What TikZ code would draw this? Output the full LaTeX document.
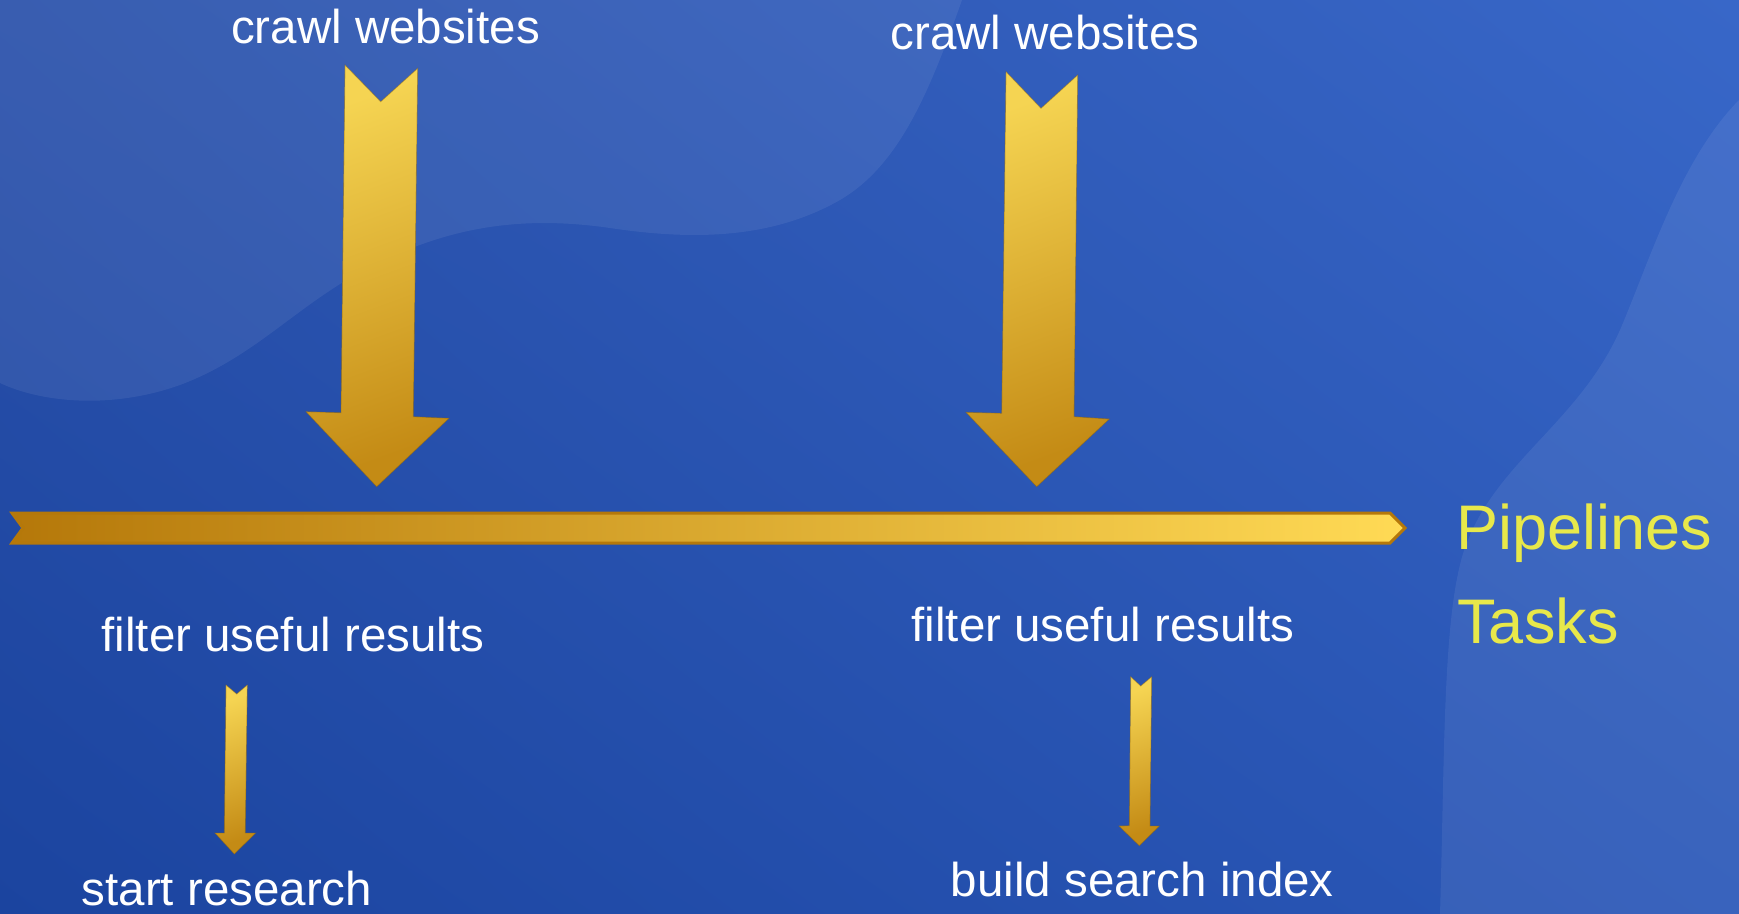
\documentclass[tikz,border=0pt]{standalone}
\usepackage{fontspec}
\setmainfont{Liberation Sans}
\usetikzlibrary{positioning, shadings}
\definecolor{bgUL}{HTML}{2A51AB}
\definecolor{bgUR}{HTML}{3867C8}
\definecolor{bgLL}{HTML}{1B449F}
\definecolor{bgLR}{HTML}{2B58B8}
\definecolor{goldlight}{HTML}{F5D452}
\definecolor{golddark}{HTML}{C48B15}
\definecolor{barlight}{HTML}{FFDA55}
\definecolor{bardark}{HTML}{B5780A}
\definecolor{legendyellow}{HTML}{E8E84A}

\begin{document}
\begin{tikzpicture}[x=0.5pt, y=-0.5pt,
  tasktext/.style={text=white, font=\fontsize{23.75}{28}\selectfont, anchor=base, inner sep=0},
  legendtext/.style={text=legendyellow, font=\fontsize{31.5}{36}\selectfont, anchor=base west, inner sep=0},
  goldarrow/.style={top color=goldlight, bottom color=golddark, shading angle=20, draw=golddark!70!black, draw opacity=0.45, line width=0.4pt},
  wave/.style={fill=white, fill opacity=0.07, draw=none}
]
\useasboundingbox (0,0) rectangle (1739,914);

% Background
\shade[upper left=bgUL, upper right=bgUR, lower left=bgLL, lower right=bgLR] (0,0) rectangle (1739,914);
\fill[wave] (0,0) -- (0,383) .. controls (40,402) and (110,410) .. (180,385)
  .. controls (260,355) and (300,300) .. (380,262) .. controls (450,228) and (520,215) .. (610,228)
  .. controls (690,240) and (770,240) .. (840,200) .. controls (900,165) and (930,90) .. (962,0) -- cycle;
\fill[wave] (1739,100) .. controls (1680,160) and (1650,260) .. (1620,330)
  .. controls (1580,420) and (1500,460) .. (1468,540) .. controls (1442,600) and (1445,750) .. (1440,914)
  -- (1739,914) -- cycle;

% Pipeline bar
\shadedraw[left color=bardark, right color=barlight, draw=bardark, line width=1.5pt]
  (12,513) -- (1390,513) -- (1405,528) -- (1390,543) -- (12,543) -- (23,528) -- cycle;

% Tasks
\node[tasktext] (crawlA) at (385.5,43.3) {crawl websites};
\node[tasktext] (crawlB) at (1045,49.3) {crawl websites};
\node[tasktext] (filterA) at (292.9,651.7) {filter useful results};
\node[tasktext] (filterB) at (1102.9,641.7) {filter useful results};
\node[tasktext] (startA) at (227,905) {start research};
\node[tasktext] (buildB) at (1142.3,896.7) {build search index};

% Legend
\node[legendtext] (pipelines) at (1456,549.3) {Pipelines};
\node[legendtext] (tasks) at (1457,643.3) {Tasks};

% Big arrows into the pipeline
\shadedraw[goldarrow] (345,65) -- (380.7,101.7) -- (417.7,68.3) -- (413.3,416.7) -- (449,418.3)
  -- (376.7,486.7) -- (306,411.7) -- (341,412.7) -- cycle;
\shadedraw[goldarrow] (1006,71.7) -- (1041,108.3) -- (1077.7,75) -- (1074,416.7) -- (1109.3,419)
  -- (1036.7,486.7) -- (966,412.3) -- (1001.7,413.3) -- cycle;

% Small arrows between tasks
\shadedraw[goldarrow] (226,685) -- (236.7,694) -- (247.3,685) -- (245.3,833) -- (255.7,833)
  -- (234.3,854) -- (215,833) -- (224.3,833) -- cycle;
\shadedraw[goldarrow] (1130.7,676.7) -- (1140.7,686) -- (1151.7,676.7) -- (1150,826) -- (1159.3,826)
  -- (1139.3,845.7) -- (1119,826) -- (1129.3,825.7) -- cycle;
\end{tikzpicture}
\end{document}
